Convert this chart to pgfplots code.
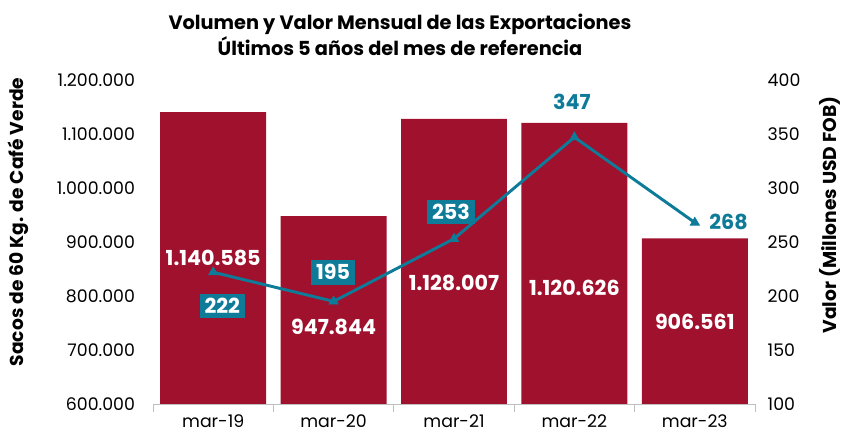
\documentclass[border=0pt]{standalone}
\usepackage{fontspec}
\setmainfont{Poppins}
\usepackage{pgfplots}
\pgfplotsset{compat=1.18}
\definecolor{barred}{HTML}{A0112E}
\definecolor{teal}{HTML}{0E7C99}
\begin{document}
\begin{tikzpicture}[font=\fontsize{13pt}{15pt}\selectfont]
\path[use as bounding box] (-114.75pt,-23.25pt) rectangle (522pt,303pt);
\begin{axis}[
  width=451.5pt, height=243pt, scale only axis,
  xmin=-0.5, xmax=4.5, ymin=600000, ymax=1200000,
  scaled y ticks=false,
  ytick={600000,700000,800000,900000,1000000,1100000,1200000},
  yticklabels={600.000,700.000,800.000,900.000,1.000.000,1.100.000,1.200.000},
  axis x line*=bottom, axis y line*=left,
  y axis line style={draw=none},
  x axis line style={draw=black!25, line width=0.6pt},
  xtick={0,1,2,3,4}, xticklabels={mar-19,mar-20,mar-21,mar-22,mar-23},
  major x tick style={draw=none},
  minor xtick={-0.5,0.5,1.5,2.5,3.5,4.5},
  minor tick length=6pt, tick align=outside,
  minor x tick style={draw=black!25, line width=0.6pt},
  major tick length=0pt,
  ytick style={draw=none},
  yticklabel style={xshift=-10pt},
  xticklabel style={yshift=-4.5pt},
  ybar, bar width=0.88,
]
\addplot[fill=barred, draw=none] coordinates {(0,1140585) (1,947844) (2,1128007) (3,1120626) (4,906561)};
\begin{scope}[every node/.style={text=white, font=\fontsize{15.5pt}{17pt}\selectfont\bfseries}]
\node at (axis cs:0,870000) {1.140.585};
\node at (axis cs:1,742600) {947.844};
\node at (axis cs:2,824000) {1.128.007};
\node at (axis cs:3,814800) {1.120.626};
\node at (axis cs:4,751900) {906.561};
\end{scope}
\end{axis}
\begin{axis}[
  width=451.5pt, height=243pt, scale only axis,
  xmin=-0.5, xmax=4.5, ymin=100, ymax=400,
  ytick={100,150,200,250,300,350,400},
  yticklabels={100,150,200,250,300,350,400},
  axis y line*=right, axis x line=none,
  y axis line style={draw=none},
  ytick style={draw=none},
  yticklabel style={xshift=6pt},
]
\addplot[teal, line width=2.2pt, mark=triangle*, mark size=4pt, mark options={line width=0.5pt}] coordinates {(0,222) (1,195) (2,253) (3,347) (4,268)};
\begin{scope}[every node/.style={font=\fontsize{15.5pt}{17pt}\selectfont\bfseries}]
\node[fill=teal, text=white, inner sep=3.5pt] at (axis cs:0.075,190.7) {222};
\node[fill=teal, text=white, inner sep=3.5pt] at (axis cs:0.995,222) {195};
\node[fill=teal, text=white, inner sep=3.5pt] at (axis cs:1.975,277.8) {253};
\node[text=teal] at (axis cs:2.98,379.6) {347};
\node[text=teal] at (axis cs:4.28,268.5) {268};
\end{scope}
\end{axis}
\node[align=center, font=\fontsize{14.5pt}{19.5pt}\selectfont\bfseries] at (185.25pt,276.75pt) {Volumen y Valor Mensual de las Exportaciones\\Últimos 5 años del mes de referencia};
\node[rotate=90, font=\fontsize{14pt}{15pt}\selectfont\bfseries] at (-101.25pt,136.5pt) {Sacos de 60 Kg. de Café Verde};
\node[rotate=90, font=\fontsize{14pt}{15pt}\selectfont\bfseries] at (508pt,141.75pt) {Valor (Millones USD FOB)};
\end{tikzpicture}
\end{document}
